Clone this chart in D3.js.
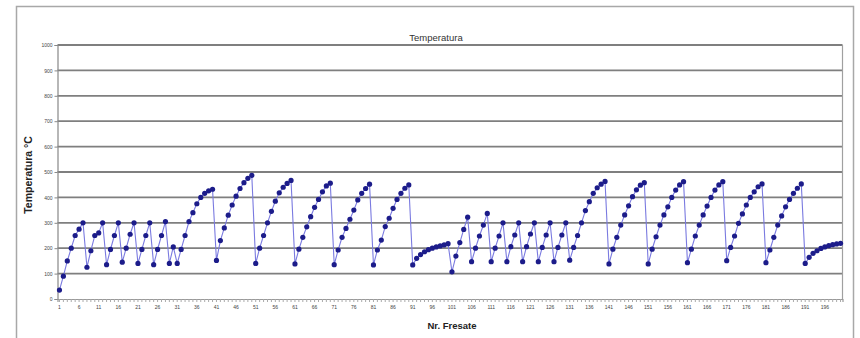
<!DOCTYPE html>
<html lang="it">
<head>
<meta charset="UTF-8">
<title>Temperatura</title>
<script src="https://cdn.jsdelivr.net/npm/d3@7"></script>
<style>
  body { margin: 0; background: #fff; }
  text { font-family: Arial, "Liberation Sans", sans-serif; }
</style>
</head>
<body>
<div id="chart"></div>
<script>
// temperature per milling, one row per heating cycle
const temperature = [
  35, 90, 150, 200, 250, 275, 300,
  125, 190, 250, 260, 300,
  135, 195, 250, 300,
  145, 200, 255, 300,
  140, 195, 250, 300,
  135, 195, 250, 305,
  140, 205,
  140, 195, 250, 305, 340, 375, 400, 416, 426, 432,
  152, 230, 280, 330, 370, 405, 435, 458, 475, 487,
  140, 200, 250, 300, 345, 385, 418, 440, 455, 467,
  138, 196, 243, 284, 324, 361, 392, 422, 445, 456,
  135, 193, 243, 278, 314, 350, 390, 416, 435, 452,
  134, 193, 232, 285, 318, 357, 392, 416, 436, 449,
  134, 160, 175, 186, 194, 200, 205, 209, 213, 218,
  107, 169, 222, 274, 322,
  147, 200, 248, 291, 337,
  147, 200, 248, 300,
  147, 206, 252, 300,
  147, 206, 256, 300,
  147, 203, 252, 300,
  147, 203, 252, 300,
  153, 203, 250, 300, 348, 383, 416, 438, 452, 463,
  138, 196, 243, 291, 331, 367, 403, 430, 448, 458,
  138, 196, 245, 291, 331, 363, 400, 429, 449, 462,
  143, 196, 248, 291, 331, 366, 400, 429, 449, 462,
  151, 203, 248, 298, 335, 370, 400, 422, 442, 453,
  143, 193, 243, 291, 327, 363, 392, 416, 436, 453,
  140, 164, 180, 190, 199, 205, 210, 214, 217, 219
];
const categories = d3.range(1, temperature.length + 1);
const xTickLabels = categories.filter(c => (c - 1) % 5 === 0);
const yTicks = [0, 100, 200, 300, 400, 500, 600, 700, 800, 900, 1000];

const W = 860, H = 338;
const svg = d3.select("#chart").append("svg")
  .attr("width", W).attr("height", H);

// outer chart frame
svg.append("rect")
  .attr("x", 16.5).attr("y", 6.5).attr("width", 837).attr("height", 345)
  .attr("fill", "#fff").attr("stroke", "#a8a8a8").attr("stroke-width", 1.5);

const x = d3.scaleBand().domain(categories).range([57.5, 842.5]);
const y = d3.scaleLinear().domain([0, 1000]).range([299, 45]);

// gridlines
svg.append("g").selectAll("line").data(yTicks.slice(1)).join("line")
  .attr("x1", 57.5).attr("x2", 842.5)
  .attr("y1", d => y(d)).attr("y2", d => y(d))
  .attr("stroke", "#7f7f7f").attr("stroke-width", 1.8);

// plot area right edge
svg.append("line")
  .attr("x1", 842.5).attr("x2", 842.5).attr("y1", y(1000)).attr("y2", y(0))
  .attr("stroke", "#a0a0a0").attr("stroke-width", 1.2);

// y axis
const yAxis = svg.append("g").attr("transform", "translate(57.5,0)")
  .call(d3.axisLeft(y).tickValues(yTicks).tickSize(3).tickPadding(2).tickFormat(d3.format("d")));
yAxis.select(".domain").attr("stroke", "#888").attr("stroke-width", 1.2);
yAxis.selectAll(".tick line").attr("stroke", "#888");
yAxis.selectAll("text").attr("font-size", 5).attr("fill", "#444");

// x axis: minor ticks for each category
const xMinor = svg.append("g").attr("transform", `translate(0,${y(0)})`)
  .call(d3.axisBottom(x).tickValues(categories).tickSize(3).tickFormat(""));
xMinor.select(".domain").attr("stroke", "#999").attr("stroke-width", 1.2);
xMinor.selectAll(".tick line").attr("stroke", "#aaa");

const xLab = svg.append("g").attr("transform", `translate(0,${y(0)})`)
  .call(d3.axisBottom(x).tickValues(xTickLabels).tickSize(0).tickPadding(6));
xLab.select(".domain").remove();
xLab.selectAll("text").attr("font-size", 5).attr("fill", "#444");

// series
const cx = c => x(c) + x.bandwidth() / 2;
const line = d3.line().x((d, i) => cx(categories[i])).y(d => y(d));
svg.append("path").datum(temperature)
  .attr("d", line).attr("fill", "none")
  .attr("stroke", "#7a7ae0").attr("stroke-width", 1.1);

svg.append("g").selectAll("circle").data(temperature).join("circle")
  .attr("cx", (d, i) => cx(categories[i]))
  .attr("cy", d => y(d))
  .attr("r", 2.6)
  .attr("fill", "#1c1c8a");

// titles
svg.append("text").attr("x", 436).attr("y", 41)
  .attr("text-anchor", "middle").attr("font-size", 9.5).attr("fill", "#333")
  .text("Temperatura");

svg.append("text")
  .attr("transform", "translate(32,175) rotate(-90)")
  .attr("text-anchor", "middle").attr("font-size", 10.5).attr("font-weight", "bold")
  .attr("fill", "#222")
  .text("Temperatura °C");

svg.append("text").attr("x", 452).attr("y", 329)
  .attr("text-anchor", "middle").attr("font-size", 9.5).attr("font-weight", "bold")
  .attr("fill", "#222")
  .text("Nr. Fresate");
</script>
</body>
</html>
